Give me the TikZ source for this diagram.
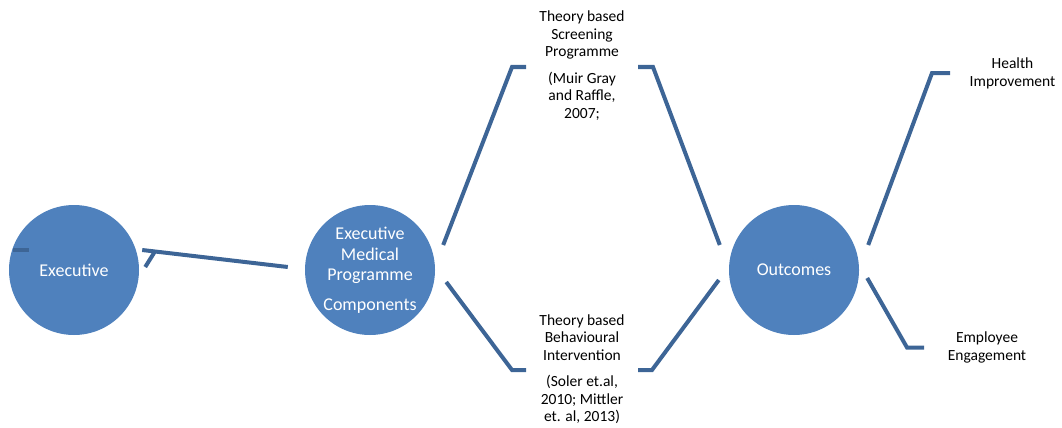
\documentclass[tikz,border=0pt]{standalone}
\usepackage{fontspec}
\setmainfont{Carlito}
\usetikzlibrary{positioning}
\definecolor{circblue}{RGB}{79,129,189}
\definecolor{linkblue}{RGB}{61,101,150}

\begin{document}
\begin{tikzpicture}[x=1pt,y=-1pt,node distance=296pt,on grid,
    bubble/.style={circle,fill=circblue,minimum size=130pt,inner sep=0pt,
                   text=white,align=center,font=\fontsize{18}{20.5}\selectfont},
    label text/.style={align=center,text=black,inner sep=0pt,
                   font=\fontsize{15.5}{17.5}\selectfont},
    link/.style={draw=linkblue,line width=4pt}]
    \useasboundingbox (0,0) rectangle (1062,428);

    \node[bubble] (exec) at (74,270) {Executive};
    \node[bubble] (emp)  [right=of exec] {Executive\\Medical\\Programme\\[9pt]Components};
    \node[bubble] (outc) [right=424pt of emp] {Outcomes};

    \node[label text] (scr) at (582,65.5) {Theory based\\Screening\\Programme\\[9pt](Muir Gray\\and Raffle,\\2007;};
    \node[label text] (beh) at (582,369) {Theory based\\Behavioural\\Intervention\\[9pt](Soler et.al,\\2010; Mittler\\et. al, 2013)};
    \node[label text] (hlth) at (1012.5,73.5) {Health\\Improvement};
    \node[label text] (empl) at (987,347.5) {Employee\\Engagement};

    % executive side
    \draw[link] ([shift={(-17,-3)}]emp.west) -- ([shift={(3,-20)}]exec.east);
    \draw[link] ([shift={(16,-19)}]exec.east) -- ([shift={(6,-3)}]exec.east);
    \draw[link] ([shift={(4,-20)}]exec.west) -- ([shift={(20,-20)}]exec.west);

    % programme components
    \draw[link] ([shift={(8,-25)}]emp.east) -- ([shift={(-70,1.5)}]scr.center) -- ([shift={(-56,1.5)}]scr.center);
    \draw[link] ([shift={(11,12)}]emp.east) -- ([shift={(-70,1)}]beh.center) -- ([shift={(-56,1)}]beh.center);
    \draw[link] ([shift={(56,1.5)}]scr.center) -- ([shift={(71,1.5)}]scr.center) -- ([shift={(-9,-25)}]outc.west);
    \draw[link] ([shift={(56,1)}]beh.center) -- ([shift={(70,1)}]beh.center) -- ([shift={(-10,10)}]outc.west);

    % outcomes
    \draw[link] ([shift={(9,-25)}]outc.east) -- ([shift={(-80.5,-0.5)}]hlth.center) -- ([shift={(-62.5,-0.5)}]hlth.center);
    \draw[link] ([shift={(8,8)}]outc.east) -- ([shift={(-80,0)}]empl.center) -- ([shift={(-63,0)}]empl.center);
\end{tikzpicture}
\end{document}
